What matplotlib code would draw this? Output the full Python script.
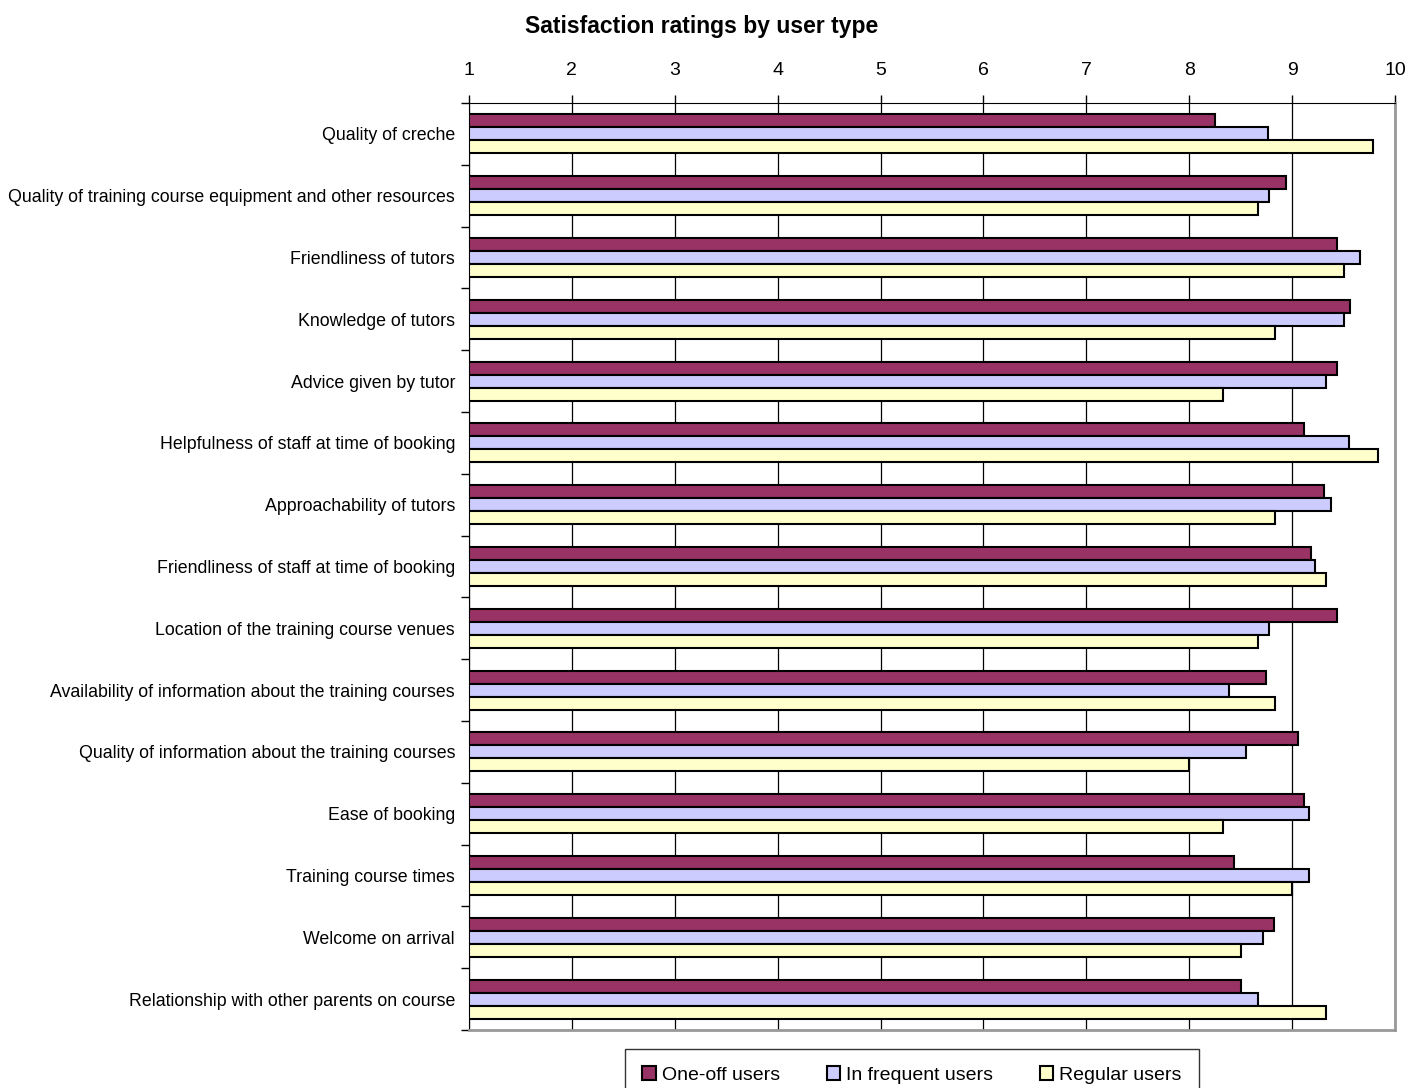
import numpy as np
import matplotlib.pyplot as plt
from matplotlib.patches import Patch

plt.rcParams['font.family'] = ['Liberation Sans', 'DejaVu Sans']

categories = [
    'Quality of creche',
    'Quality of training course equipment and other resources',
    'Friendliness of tutors',
    'Knowledge of tutors',
    'Advice given by tutor',
    'Helpfulness of staff at time of booking',
    'Approachability of tutors',
    'Friendliness of staff at time of booking',
    'Location of the training course venues',
    'Availability of information about the training courses',
    'Quality of information about the training courses',
    'Ease of booking',
    'Training course times',
    'Welcome on arrival',
    'Relationship with other parents on course',
]
one_off = [8.25, 8.94, 9.44, 9.56, 9.44, 9.12, 9.31, 9.18, 9.44, 8.75, 9.06, 9.12, 8.44, 8.82, 8.50]
infrequent = [8.77, 8.78, 9.66, 9.50, 9.33, 9.55, 9.38, 9.22, 8.78, 8.39, 8.55, 9.16, 9.16, 8.72, 8.67]
regular = [9.79, 8.67, 9.50, 8.83, 8.33, 9.83, 8.83, 9.33, 8.67, 8.83, 8.00, 8.33, 9.00, 8.50, 9.33]
series_names = ['One-off users', 'In frequent users', 'Regular users']
colors = ['#993366', '#CCCCFF', '#FFFFCC']

fig = plt.figure(figsize=(14.1, 10.88), dpi=100)
ax = fig.add_axes([469 / 1410, 1 - 1030 / 1088, (1395 - 469) / 1410, (1030 - 103) / 1088])

y = np.arange(len(categories))
h = 0.21
base = 1
for k, vals in enumerate([one_off, infrequent, regular]):
    ax.barh(y + (k - 1) * h, np.array(vals) - base, left=base, height=h,
            color=colors[k], edgecolor='black', linewidth=1.5, zorder=3)

ax.set_xlim(1, 10)
ax.set_ylim(len(categories) - 0.5, -0.5)
ax.set_xticks(range(1, 11))
ax.xaxis.tick_top()
ax.tick_params(axis='x', length=6, width=1, pad=11, labelsize=14)
ax.grid(axis='x', color='black', linewidth=0.9, zorder=0)

ax.set_yticks(y)
ax.set_yticklabels(categories)
ax.set_yticks(np.arange(-0.5, len(categories) + 0.5, 1), minor=True)
ax.tick_params(axis='y', which='major', length=0, pad=10, labelsize=12.8)
ax.tick_params(axis='y', which='minor', length=6, width=1)

for s in ['top', 'left']:
    ax.spines[s].set_color('black')
for s in ['right', 'bottom']:
    ax.spines[s].set_color('#999999')
    ax.spines[s].set_linewidth(2)

fig.text(702 / 1410, 1 - 27 / 1088, 'Satisfaction ratings by user type',
         ha='center', va='center', fontsize=16.5, fontweight='bold')

handles = [Patch(facecolor=c, edgecolor='black', linewidth=1.5) for c in colors]
leg = fig.legend(handles, series_names, loc='upper center', ncol=3,
                 bbox_to_anchor=(912 / 1410, 1 - 1039 / 1088), fontsize=14,
                 frameon=True, fancybox=False, edgecolor='black',
                 handlelength=0.7, handleheight=0.7, handletextpad=0.3,
                 columnspacing=2.4, borderpad=0.9)
leg.get_frame().set_linewidth(1)

fig.savefig('out.png', dpi=100)
